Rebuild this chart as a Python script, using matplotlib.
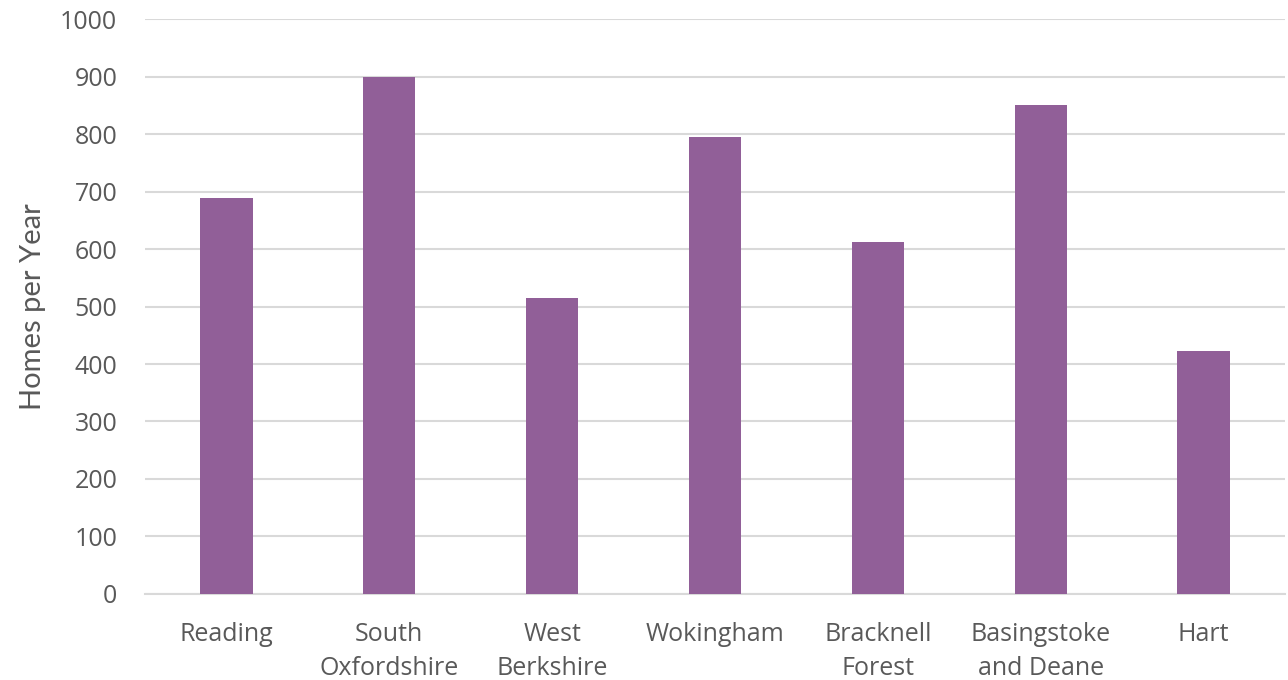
import numpy as np
import matplotlib.pyplot as plt

# chart data
districts = ["Reading", "South\nOxfordshire", "West\nBerkshire", "Wokingham",
             "Bracknell\nForest", "Basingstoke\nand Deane", "Hart"]
homes_per_year = [689, 900, 514, 795, 613, 850, 422]
y_ticks = [0, 100, 200, 300, 400, 500, 600, 700, 800, 900, 1000]

bar_color = "#915F98"
grid_color = "#D9D9D9"
text_color = "#595959"

fig = plt.figure(figsize=(12.88, 6.8), dpi=100)
ax = fig.add_axes([0.1126, 0.1265, 0.885, 0.8455])

x = np.arange(len(districts))
ax.bar(x, homes_per_year, width=0.32, color=bar_color, zorder=3)

ax.set_xlim(-0.5, len(districts) - 0.5)
ax.set_ylim(0, 1000)
ax.set_yticks(y_ticks)
ax.set_yticklabels([str(v) for v in y_ticks], fontsize=18,
                   family="Open Sans", color=text_color)
ax.set_xticks(x)
ax.set_xticklabels(districts, fontsize=18, family="Open Sans",
                   color=text_color, linespacing=1.5)
ax.tick_params(axis="both", length=0)
ax.tick_params(axis="y", pad=20)
ax.tick_params(axis="x", pad=20)

ax.grid(axis="y", color=grid_color, linewidth=1.5, zorder=0)
for side in ["top", "right", "left"]:
    ax.spines[side].set_visible(False)
ax.spines["bottom"].set_color(grid_color)
ax.spines["bottom"].set_linewidth(1.5)

ax.set_ylabel("Homes per Year", fontsize=21, family="Lato",
              color=text_color, labelpad=10)

fig.savefig("out.png", dpi=100)
